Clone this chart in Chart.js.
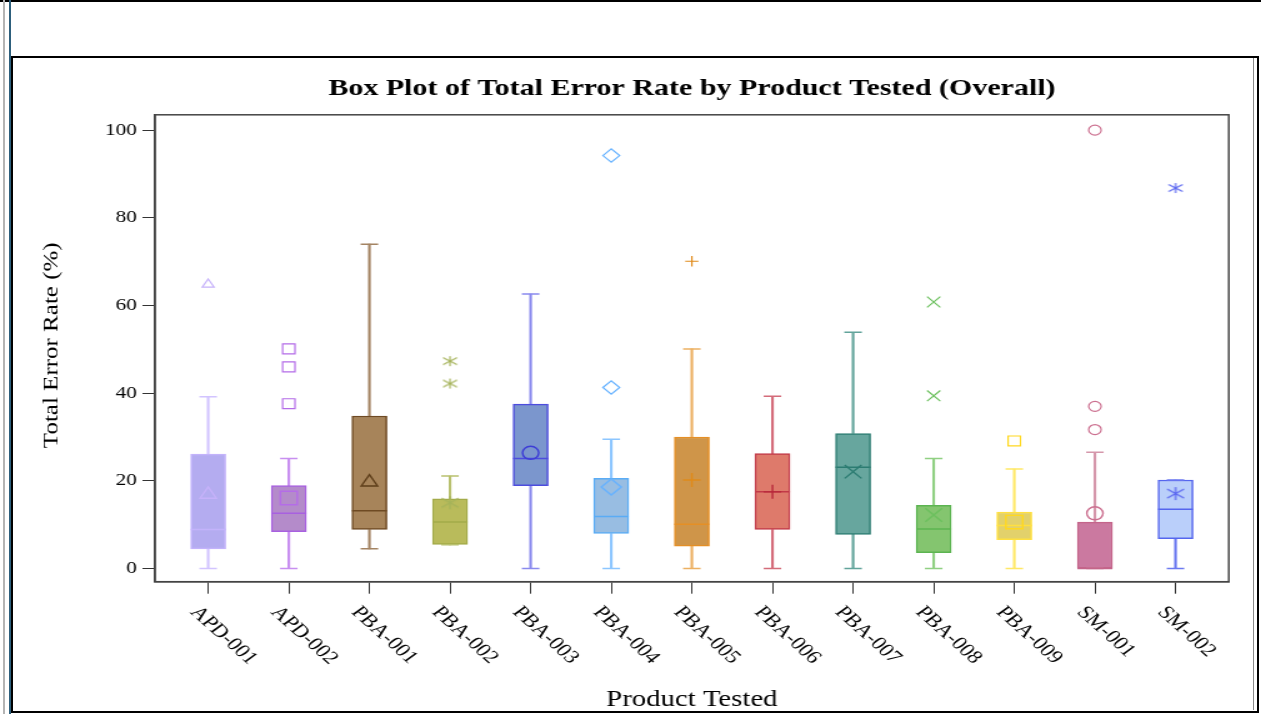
<!DOCTYPE html>
<html>
<head>
<meta charset="utf-8">
<title>Box Plot of Total Error Rate by Product Tested (Overall)</title>
<script src="https://cdn.jsdelivr.net/npm/chart.js@4.4.1/dist/chart.umd.min.js"></script>
<style>
  html, body { margin: 0; padding: 0; background: #fff; }
  body { width: 1266px; height: 714px; position: relative; overflow: hidden; }
  #stage { position: absolute; left: 0; top: 0; width: 1013px; height: 714px;
           transform: scaleX(1.2498); transform-origin: 0 0; }
  .rule { position: absolute; box-sizing: border-box; }
</style>
</head>
<body>
<div id="stage"><canvas id="c" width="1013" height="714"></canvas></div>
<div class="rule" style="left:0;top:0;width:1261px;height:2px;background:#000"></div>
<div class="rule" style="left:3px;top:0;width:2px;height:714px;background:#b4b4b4"></div>
<div class="rule" style="left:9px;top:0;width:2px;height:714px;background:#2d5f7c"></div>
<div class="rule" style="left:11px;top:56px;width:1248px;height:657px;border:2px solid #000"></div>
<div class="rule" style="left:1253px;top:58px;width:1px;height:652px;background:#8a8a8a"></div>
<script>
// Products and their five-number summaries (Total Error Rate, %)
const products = ['APD-001', 'APD-002', 'PBA-001', 'PBA-002', 'PBA-003', 'PBA-004', 'PBA-005',
                  'PBA-006', 'PBA-007', 'PBA-008', 'PBA-009', 'SM-001', 'SM-002'];
const whiskerLow  = [0, 0, 4.5, 5.4, 0, 0, 0, 0, 0, 0, 0, 0, 0];
const quartile1   = [4.5, 8.4, 8.9, 5.5, 18.9, 8.0, 5.1, 8.9, 7.8, 3.6, 6.6, 0, 6.8];
const medians     = [8.9, 12.6, 13.2, 10.6, 25.1, 11.9, 10.1, 17.5, 23.1, 9.0, 9.8, 0, 13.5];
const quartile3   = [26.1, 18.9, 34.8, 15.9, 37.5, 20.6, 30.0, 26.2, 30.8, 14.4, 12.9, 10.6, 20.2];
const whiskerHigh = [39.2, 25.1, 74.0, 21.1, 62.6, 29.5, 50.1, 39.3, 53.9, 25.1, 22.7, 26.5, 20.2];
const means       = [16.9, 16.1, 19.7, 15.0, 26.4, 18.6, 20.2, 17.5, 22.1, 12.2, 10.6, 12.6, 17.1];
const outliers    = [[64.8], [50.1, 46.0, 37.6], [], [47.3, 42.2], [], [94.2, 41.3], [70.1],
                     [], [], [60.8, 39.4], [29.1], [100, 37.0, 31.7], [86.8]];
const yTickValues = [0, 20, 40, 60, 80, 100];

// Per-product styling
const fillColors    = ['#b4acf0', '#b48bca', '#a7845a', '#b9bb5b', '#7b96cd', '#98bde2', '#cf9549',
                       '#de7a6b', '#67a69e', '#84c56f', '#e2d16b', '#cb79a0', '#bacffa'];
const edgeColors    = ['#c3b3fb', '#a860e0', '#6e4a23', '#a3ab49', '#4d4ddd', '#5aacf5', '#e58f25',
                       '#c23a48', '#2c7c72', '#5cb451', '#ffe040', '#c4658a', '#5566ee'];
const whiskerColors = ['#d2c4ff', '#c88ff0', '#a48463', '#b8c06e', '#8a8aee', '#8cc6ff', '#ecb062',
                       '#d46c7a', '#62a49b', '#90d082', '#ffe866', '#d597ab', '#6c7af0'];
const markerColors  = ['#c6b2fa', '#b46ce8', '#5e3e1a', '#a5b35a', '#3d3dd6', '#66b2ff', '#e08a1a',
                       '#b8283a', '#2c7c72', '#6cc05e', '#ffd820', '#cc7090', '#5a66f0'];
const markerShapes  = ['triangle', 'rect', 'triangle', 'asterisk', 'circle', 'rectRot', 'cross',
                       'cross', 'crossRot', 'crossRot', 'rect', 'circle', 'asterisk'];
const outlierSize = { triangle: 5.5, rect: 7, circle: 5, rectRot: 6.7, cross: 5.3, crossRot: 7.5 };
const meanSize    = { triangle: 7.5, rect: 9.5, circle: 6.5, rectRot: 8, cross: 7, crossRot: 9.5 };

// Six-armed asterisk marker drawn onto a small canvas
function asteriskMarker(color, halfW, halfH, lw) {
  const w = Math.ceil(2 * halfW + 4), h = Math.ceil(2 * halfH + 4);
  const cv = document.createElement('canvas');
  cv.width = w; cv.height = h;
  const g = cv.getContext('2d');
  g.strokeStyle = color; g.lineWidth = lw; g.lineCap = 'butt';
  g.translate(w / 2, h / 2);
  g.beginPath();
  g.moveTo(0, -halfH); g.lineTo(0, halfH);
  g.moveTo(-halfW, -0.7 * halfH); g.lineTo(halfW, 0.7 * halfH);
  g.moveTo(-halfW, 0.7 * halfH); g.lineTo(halfW, -0.7 * halfH);
  g.stroke();
  return cv;
}
const outlierAsterisks = {}, meanAsterisks = {};
markerShapes.forEach((s, i) => {
  if (s === 'asterisk') {
    outlierAsterisks[i] = asteriskMarker(markerColors[i], 5.6, 5, 1.2);
    meanAsterisks[i] = asteriskMarker(markerColors[i], 6.7, 6.5, 1.3);
  }
});

const pointsOf = vals => vals.map((v, i) => ({ x: i, y: v }));
const idx = ctx => (ctx.raw ? ctx.raw.x : 0);

// Plot frame (top and right edges complete the box around the data area)
const framePlugin = {
  id: 'plotFrame',
  afterDraw(chart) {
    const { ctx, chartArea: a } = chart;
    ctx.save();
    ctx.strokeStyle = '#444';
    ctx.lineWidth = 1.5;
    ctx.strokeRect(a.left, a.top, a.right - a.left, a.bottom - a.top);
    ctx.restore();
  }
};

// Slanted category labels under the x axis
const slantedLabels = {
  id: 'slantedLabels',
  afterDraw(chart) {
    const { ctx } = chart;
    const xs = chart.scales.x;
    ctx.save();
    ctx.font = '18.5px "Liberation Serif"';
    ctx.fillStyle = '#000';
    ctx.textAlign = 'left';
    ctx.textBaseline = 'middle';
    products.forEach((p, i) => {
      const px = xs.getPixelForValue(i);
      ctx.save();
      ctx.translate(px - 11.5, xs.top + 27.5);
      ctx.rotate(48 * Math.PI / 180);
      ctx.fillText(p, 0, 0);
      ctx.restore();
    });
    ctx.restore();
  }
};

// Vertical axis title
const yAxisTitle = {
  id: 'yAxisTitle',
  afterDraw(chart) {
    const { ctx, chartArea: a } = chart;
    ctx.save();
    ctx.translate(41.6, (a.top + a.bottom) / 2 - 3);
    ctx.rotate(-Math.PI / 2);
    ctx.scale(1.25, 0.8);
    ctx.font = '20px "Liberation Serif"';
    ctx.fillStyle = '#000';
    ctx.textAlign = 'center';
    ctx.textBaseline = 'middle';
    ctx.fillText('Total Error Rate (%)', 0, 0);
    ctx.restore();
  }
};

const serif = 'Liberation Serif';

new Chart(document.getElementById('c'), {
  type: 'bar',
  data: {
    datasets: [
      {
        type: 'bar', label: 'Lower whisker', order: 6, grouped: false,
        data: products.map((_, i) => ({ x: i, y: [whiskerLow[i], quartile1[i]] })),
        backgroundColor: whiskerColors, borderWidth: 0, barThickness: 1.5
      },
      {
        type: 'bar', label: 'Upper whisker', order: 5, grouped: false,
        data: products.map((_, i) => ({ x: i, y: [quartile3[i], whiskerHigh[i]] })),
        backgroundColor: whiskerColors, borderWidth: 0, barThickness: 1.5
      },
      {
        type: 'bar', label: 'Interquartile range', order: 4, grouped: false,
        data: products.map((_, i) => ({ x: i, y: [quartile1[i], quartile3[i]] })),
        backgroundColor: fillColors, borderColor: edgeColors, borderWidth: 1.5,
        borderSkipped: false, barThickness: 28
      },
      {
        type: 'scatter', label: 'Whisker caps', order: 3,
        data: pointsOf(whiskerLow).concat(pointsOf(whiskerHigh)),
        pointStyle: 'line', pointRadius: 7, pointBorderWidth: 1.5,
        pointBorderColor: ctx => whiskerColors[idx(ctx)]
      },
      {
        type: 'scatter', label: 'Median', order: 2,
        data: pointsOf(medians),
        pointStyle: 'line', pointRadius: 14, pointBorderWidth: 1.5,
        pointBorderColor: ctx => edgeColors[idx(ctx)]
      },
      {
        type: 'scatter', label: 'Mean', order: 1,
        data: pointsOf(means),
        pointStyle: ctx => {
          const i = idx(ctx);
          return markerShapes[i] === 'asterisk' ? meanAsterisks[i] : markerShapes[i];
        },
        pointRadius: ctx => meanSize[markerShapes[idx(ctx)]] || 7,
        pointBorderWidth: 1.4,
        pointBackgroundColor: 'rgba(0,0,0,0)',
        pointBorderColor: ctx => markerColors[idx(ctx)]
      },
      {
        type: 'scatter', label: 'Outliers', order: 0,
        data: outliers.flatMap((vals, i) => vals.map(v => ({ x: i, y: v }))),
        pointStyle: ctx => {
          const i = idx(ctx);
          return markerShapes[i] === 'asterisk' ? outlierAsterisks[i] : markerShapes[i];
        },
        pointRadius: ctx => outlierSize[markerShapes[idx(ctx)]] || 5.5,
        pointBorderWidth: 1.2,
        pointBackgroundColor: 'rgba(0,0,0,0)',
        pointBorderColor: ctx => markerColors[idx(ctx)]
      }
    ]
  },
  options: {
    responsive: false,
    animation: false,
    events: [],
    layout: { padding: { left: 0, right: 29.8, top: 60, bottom: 0 } },
    plugins: {
      legend: { display: false },
      tooltip: { enabled: false },
      title: {
        display: true,
        fullSize: false,
        text: 'Box Plot of Total Error Rate by Product Tested (Overall)',
        color: '#000',
        font: { family: serif, size: 24, weight: 'bold' },
        padding: { top: 14, bottom: 12 }
      }
    },
    scales: {
      x: {
        type: 'linear',
        offset: false,
        min: -0.66,
        max: 12.661,
        afterBuildTicks: s => { s.ticks = products.map((_, i) => ({ value: i })); },
        afterFit: s => { s.height = 132.3; },
        ticks: { display: false },
        grid: { offset: false, drawOnChartArea: false, drawTicks: true, tickLength: 12, color: '#333', lineWidth: 1 },
        border: { display: true, color: '#444', width: 1.5 },
        title: {
          display: true, text: 'Product Tested', color: '#000',
          font: { family: serif, size: 23 }, padding: { top: 0, bottom: 0 }
        }
      },
      y: {
        type: 'linear',
        min: -3,
        max: 103.5,
        afterBuildTicks: s => { s.ticks = yTickValues.map(v => ({ value: v })); },
        afterFit: s => { s.width = 124; },
        ticks: { color: '#000', font: { family: serif, size: 17 }, padding: 4.5 },
        grid: { drawOnChartArea: false, drawTicks: true, tickLength: 10, color: '#333', lineWidth: 1 },
        border: { display: true, color: '#444', width: 1.5 }
      }
    }
  },
  plugins: [framePlugin, slantedLabels, yAxisTitle]
});
</script>
</body>
</html>
